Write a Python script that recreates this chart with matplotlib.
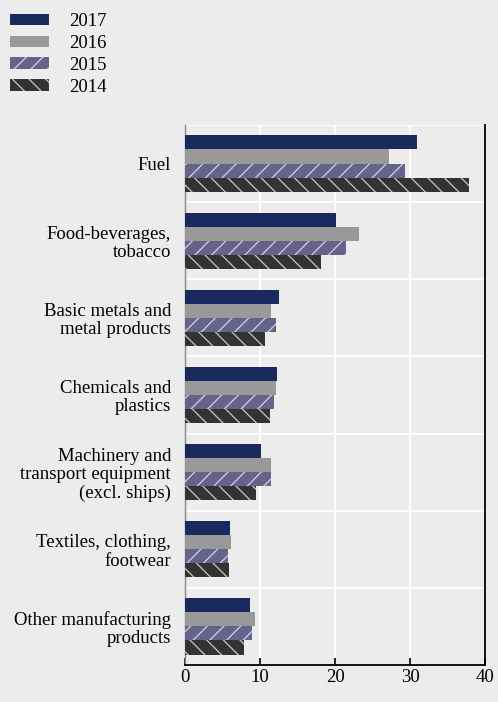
import numpy as np
import matplotlib.pyplot as plt

plt.rcParams["font.family"] = ["Liberation Serif", "DejaVu Serif"]
plt.rcParams["hatch.linewidth"] = 1.0

CATEGORIAS = [
    "Fuel",
    "Food-beverages,\ntobacco",
    "Basic metals and\nmetal products",
    "Chemicals and\nplastics",
    "Machinery and\ntransport equipment\n(excl. ships)",
    "Textiles, clothing,\nfootwear",
    "Other manufacturing\nproducts",
]
ANOS = ["2017", "2016", "2015", "2014"]

V2017 = [30.9, 20.1, 12.5, 12.3, 10.1, 6.0, 8.7]
V2016 = [27.2, 23.2, 11.5, 12.1, 11.5, 6.1, 9.3]
V2015 = [29.3, 21.5, 12.1, 11.9, 11.5, 5.7, 8.9]
V2014 = [37.9, 18.1, 10.7, 11.3, 9.5, 5.8, 7.9]

SERIES = [V2017, V2016, V2015, V2014]
CORES = ["#1b2a5e", "#999999", "#65638a", "#333333"]
HACHURAS = [None, None, "//", "\\\\"]
COR_HACH = ["#1b2a5e", "#999999", "#c8c8dc", "#bbbbbb"]

FUNDO = "#ececec"
FONTE = 13.5

fig = plt.figure(figsize=(4.98, 7.02), dpi=100, facecolor=FUNDO)
ax = fig.add_axes([0.3715, 0.0527, 0.6025, 0.7693], facecolor=FUNDO)

n = len(CATEGORIAS)
y = np.arange(n)
altura = 0.182
handles = []
for i, (ano, vals) in enumerate(zip(ANOS, SERIES)):
    pos = y - 1.5 * altura + i * altura
    b = ax.barh(pos, vals, height=altura, color=CORES[i],
                hatch=HACHURAS[i], edgecolor=COR_HACH[i], linewidth=0,
                label=ano, zorder=3)
    handles.append(b)

ax.set_ylim(n - 0.5, -0.5)
ax.set_xlim(0, 40)
ax.set_yticks(y)
ax.set_yticklabels(CATEGORIAS, fontsize=FONTE, linespacing=1.1)
ax.tick_params(axis="y", length=0, pad=10)
ax.set_yticks(np.arange(n + 1) - 0.5, minor=True)
ax.tick_params(axis="y", which="minor", length=0)
ax.set_xticks([0, 10, 20, 30, 40])
ax.tick_params(axis="x", direction="in", length=5, width=1.2, labelsize=FONTE,
               pad=3, color="black")

ax.grid(True, axis="x", color="white", linewidth=1.5, zorder=1)
ax.grid(True, axis="y", which="minor", color="white", linewidth=1.5, zorder=1)
ax.grid(False, axis="y", which="major")

ax.spines["top"].set_visible(False)
ax.spines["left"].set_color("#888888")
ax.spines["left"].set_linewidth(1.0)
ax.spines["right"].set_color("black")
ax.spines["right"].set_linewidth(1.3)
ax.spines["bottom"].set_color("black")
ax.spines["bottom"].set_linewidth(1.3)

leg = fig.legend(handles=handles, labels=ANOS, loc="upper left",
                 bbox_to_anchor=(10 / 498, 1 - 13 / 702), frameon=False,
                 fontsize=FONTE, handlelength=2.1, handleheight=0.55,
                 handletextpad=1.05, labelspacing=0.26, borderaxespad=0,
                 borderpad=0)

fig.savefig("out.png", dpi=100, facecolor=FUNDO)
